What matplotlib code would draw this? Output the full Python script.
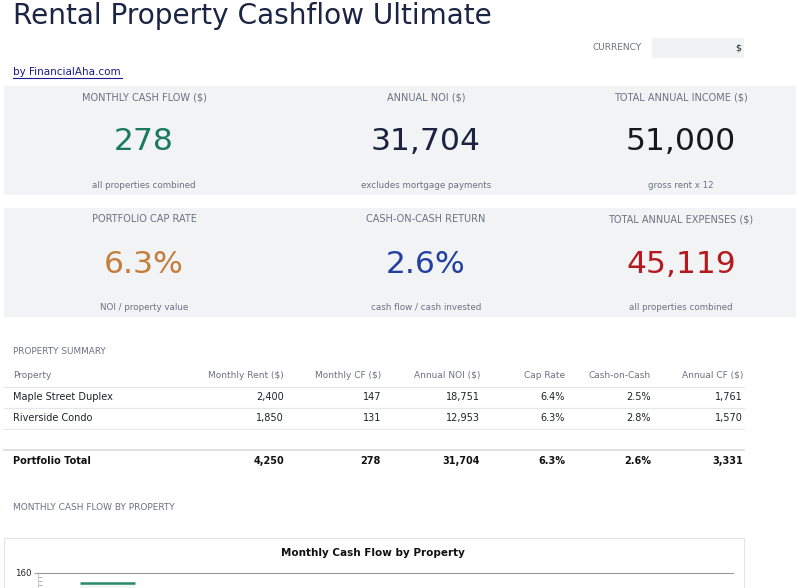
import matplotlib
matplotlib.use("Agg")
import matplotlib.pyplot as plt
from matplotlib.patches import Rectangle
from matplotlib.lines import Line2D

W, H = 800, 588

# KPI cards
card_labels = [
    ["MONTHLY CASH FLOW ($)", "ANNUAL NOI ($)", "TOTAL ANNUAL INCOME ($)"],
    ["PORTFOLIO CAP RATE", "CASH-ON-CASH RETURN", "TOTAL ANNUAL EXPENSES ($)"],
]
card_values = [["278", "31,704", "51,000"], ["6.3%", "2.6%", "45,119"]]
card_notes = [
    ["all properties combined", "excludes mortgage payments", "gross rent x 12"],
    ["NOI / property value", "cash flow / cash invested", "all properties combined"],
]
card_colors = [["#1b7a5c", "#1b2340", "#17181c"], ["#c47d3a", "#2140a0", "#b4191f"]]

# property table
table_header = ["Property", "Monthly Rent ($)", "Monthly CF ($)", "Annual NOI ($)",
                "Cap Rate", "Cash-on-Cash", "Annual CF ($)"]
properties = ["Maple Street Duplex", "Riverside Condo"]
monthly_rent = [2400, 1850]
monthly_cf = [147, 131]
annual_noi = [18751, 12953]
cap_rate = [6.4, 6.3]
cash_on_cash = [2.5, 2.8]
annual_cf = [1761, 1570]
total_row = ["Portfolio Total", "4,250", "278", "31,704", "6.3%", "2.6%", "3,331"]

fig = plt.figure(figsize=(W / 100, H / 100), dpi=100)
fig.patch.set_facecolor("white")


def fx(x):
    return x / W


def fy(y):
    return 1 - y / H


def txt(x, y, s, **kw):
    kw.setdefault("va", "center")
    fig.text(fx(x), fy(y), s, **kw)


def rect(x0, y0, x1, y1, color, **kw):
    fig.patches.append(Rectangle((fx(x0), fy(y1)), fx(x1) - fx(x0), fy(y0) - fy(y1),
                                 transform=fig.transFigure, facecolor=color,
                                 edgecolor=kw.pop("ec", "none"), **kw))


def hline(x0, x1, y, color="#e5e7eb", lw=0.8):
    fig.lines.append(Line2D([fx(x0), fx(x1)], [fy(y), fy(y)], transform=fig.transFigure,
                            color=color, lw=lw))


gray = "#6b7280"

# header
txt(13, 16, "Rental Property Cashflow Ultimate", fontsize=20.2, color="#1b2442")
txt(642, 48, "CURRENCY", fontsize=6.5, color=gray, ha="right")
rect(652, 38, 744, 58, "#f1f2f4")
txt(741, 48, "$", fontsize=6.8, color="#222222", ha="right")
txt(13, 72, "by FinancialAha.com", fontsize=7.5, color="#1a1a8a")
hline(13, 122, 77.5, color="#1a1a8a", lw=0.8)

# cards
col_x = [144, 426, 681]
for r, top in enumerate([86, 208]):
    rect(4, top, 796, top + 109, "#f1f3f5")
    for c in range(3):
        txt(col_x[c], top + 11, card_labels[r][c], fontsize=7.0, color=gray, ha="center")
        txt(col_x[c], top + 56, card_values[r][c], fontsize=22.6, color=card_colors[r][c],
            ha="center")
        txt(col_x[c], top + 99, card_notes[r][c], fontsize=6.3, color=gray, ha="center")

# table
txt(13, 351, "PROPERTY SUMMARY", fontsize=6.4, color=gray)
right_edges = [284, 381, 480, 565, 651, 743]
txt(13, 375, table_header[0], fontsize=6.5, color=gray)
for i, h in enumerate(table_header[1:]):
    txt(right_edges[i], 375, h, fontsize=6.5, color=gray, ha="right")
hline(4, 744, 386.5)
row_y = [397, 418]
for i, name in enumerate(properties):
    cells = [f"{monthly_rent[i]:,}", f"{monthly_cf[i]:,}", f"{annual_noi[i]:,}",
             f"{cap_rate[i]:.1f}%", f"{cash_on_cash[i]:.1f}%", f"{annual_cf[i]:,}"]
    txt(13, row_y[i], name, fontsize=7.0, color="#1f2328")
    for j, s in enumerate(cells):
        txt(right_edges[j], row_y[i], s, fontsize=7.0, color="#1f2328", ha="right")
    hline(4, 744, row_y[i] + 10.5)
hline(4, 744, 449.5, color="#d8dbe0", lw=1.2)
txt(13, 461, total_row[0], fontsize=7.0, color="#111111", weight="bold")
for j, s in enumerate(total_row[1:]):
    txt(right_edges[j], 461, s, fontsize=7.0, color="#111111", weight="bold", ha="right")

# chart section
txt(13, 508, "MONTHLY CASH FLOW BY PROPERTY", fontsize=6.5, color=gray)
rect(4, 538, 744, 700, "white", ec="#e3e5e8", lw=0.8)
txt(373, 553, "Monthly Cash Flow by Property", fontsize=7.5, color="#111111",
    weight="bold", ha="center")

ax_top, ax_bot = 573, 696
ax = fig.add_axes([fx(38), fy(ax_bot), fx(733) - fx(38), (ax_bot - ax_top) / H])
ax.set_zorder(5)
xs = list(range(len(properties)))
bw = 0.39
ax.bar(xs, monthly_cf, width=bw, color="#1b7a5c", alpha=0.06, linewidth=0)
ax.hlines(monthly_cf, [x - bw / 2 for x in xs], [x + bw / 2 for x in xs],
          color="#2a8a6c", lw=1.8)
ax.set_xlim(-0.5, 4.5)
ax.set_ylim(0, 160)
ax.set_yticks([160])
ax.set_yticks(range(0, 161, 5), minor=True)
ax.tick_params(axis="y", which="major", labelsize=6.2, length=3, pad=2, color="#999999",
               labelcolor="#222222")
ax.tick_params(axis="y", which="minor", length=3, direction="in", color="#aaaaaa")
ax.set_xticks([])
for s in ["right", "bottom"]:
    ax.spines[s].set_visible(False)
ax.spines["top"].set_color("#9a9a9a")
ax.spines["left"].set_color("#cccccc")
ax.patch.set_alpha(0)

fig.savefig("out.png", dpi=100, facecolor="white")
